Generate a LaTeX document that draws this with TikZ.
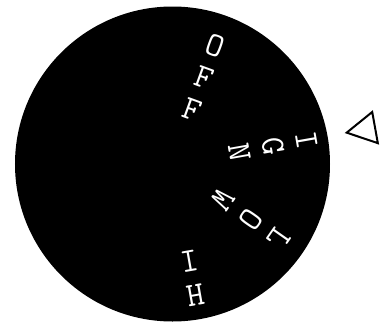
\documentclass[tikz,border=0pt]{standalone}
\begin{document}
\begin{tikzpicture}[x=1pt,y=1pt,
  knoblabel/.style={text=white,font=\fontsize{34}{34}\selectfont\ttfamily,align=center,inner sep=0pt},
  pointer/.style={draw=black,fill=white,line width=2pt,line join=miter}]
\useasboundingbox (-172.5,-158) rectangle (207.5,164);
\fill[black] (0,0) circle (157.5);
\node[knoblabel,rotate=-20] (off) at (70:92) {O\\F\\F};
\node[knoblabel,rotate=-80] (ign) at (10:102) {I\\G\\N};
\node[knoblabel,rotate=-125] (low) at (-35:96) {L\\O\\W};
\node[knoblabel,rotate=-170] (hi) at (-80:116) {H\\I};
\draw[pointer] (10.2:177) -- (14.6:206.4) -- (5.8:206.4) -- cycle;
\end{tikzpicture}
\end{document}
